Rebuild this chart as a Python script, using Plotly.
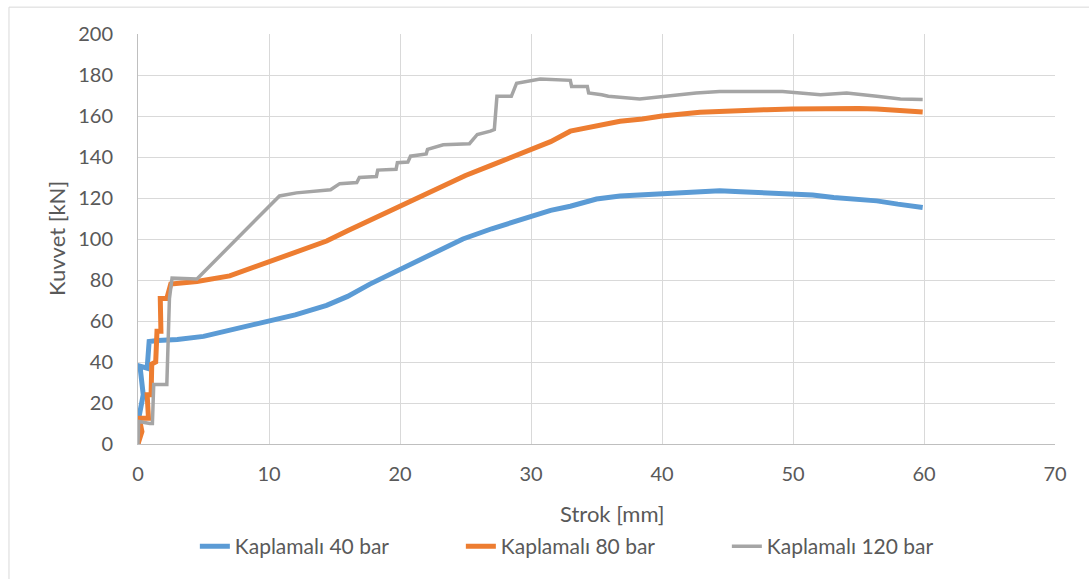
import plotly.graph_objects as go

# Kaplamalı 40 bar
x40 = [0, 0.1, 0.4, 0.15, 0.7, 0.85, 1.5, 3, 5, 7, 8.5, 10, 12, 14.4, 16, 17.7, 18.5, 20, 22, 24.8,
       27, 29.9, 31.5, 33, 35, 36.8, 38.5, 40, 42, 44.4, 46, 48, 49.9, 51.5, 53.1, 55, 56.4, 58, 59.9]
y40 = [0, 14, 24, 38, 37, 50, 50.5, 51, 52.5, 55.5, 57.5, 60.3, 63, 67.6, 72, 78, 80.5, 85.4, 91, 100,
       105, 111, 114, 116, 119.5, 121, 121.5, 122.5, 123, 123.5, 123, 122.5, 122, 121.5, 120.2, 119.5, 118.6, 117, 115.4]

# Kaplamalı 80 bar
x80 = [0, 0.3, 0.1, 0.8, 0.7, 1.0, 1.05, 1.35, 1.45, 1.75, 1.7, 2.2, 2.5, 4.5, 7, 8.5, 10.1, 12, 14.4, 16,
       18, 20, 21.5, 23, 25, 27, 29.9, 31.5, 33, 35, 36.8, 38.5, 40, 42.9, 44.4, 46, 48, 49.9, 51.5, 53.1,
       55, 56.4, 58, 59.9]
y80 = [0, 6, 12.5, 12.5, 24, 24, 39, 40, 55, 55, 71, 71, 78, 79.3, 82, 85.4, 88.8, 93, 99, 104,
       110, 116, 120.4, 125, 131, 136, 143, 147.5, 152.6, 155, 157.4, 158.5, 160, 161.8, 162.3, 162.8, 163.1, 163.4, 163.6, 163.9,
       163.7, 163.4, 162.8, 162]

# Kaplamalı 120 bar
x120 = [0, 0.05, 0.9, 1.1, 1.2, 2.2, 2.4, 2.6, 4.5, 10.8, 12.1, 14.7, 15.4, 16.7, 16.9, 18.2, 18.3, 19.7, 19.8, 20.6,
        20.8, 22, 22.1, 23.3, 25.3, 25.9, 26.9, 27.2, 27.4, 28.5, 28.9, 30.2, 30.7, 33, 33.1, 34.3, 34.4, 35.4, 35.9, 38.3,
        40.1, 42.6, 44.4, 47.5, 49.2, 52.1, 54.1, 56.4, 58.2, 59.9]
y120 = [0, 11, 10, 10, 29, 29, 71, 81, 80.5, 121, 122.5, 124, 127, 127.5, 130, 130.5, 133.6, 134, 137.2, 137.5,
        140.4, 141.5, 143.7, 146, 146.5, 151, 152.6, 153.4, 169.6, 169.6, 176, 177.7, 178, 177.4, 174.4, 174.4, 171.2, 170.4, 169.6, 168.3,
        169.6, 171.2, 172, 172, 172, 170.4, 171.2, 169.6, 168.3, 168]

names = ["Kaplamalı 40 bar", "Kaplamalı 80 bar", "Kaplamalı 120 bar"]
colors = ["#5B9BD5", "#ED7D31", "#A5A5A5"]
widths = [5, 5, 3.5]

FONT = "Lato"
TXT = "#595959"

fig = go.Figure()
for xs, ys, nm, c, w in zip([x40, x80, x120], [y40, y80, y120], names, colors, widths):
    fig.add_trace(go.Scatter(x=xs, y=ys, mode="lines", name=nm,
                             line=dict(color=c, width=w)))

fig.update_layout(
    width=1089, height=579,
    margin=dict(l=138, r=34, t=34, b=133),
    paper_bgcolor="white", plot_bgcolor="white",
    font=dict(family=FONT, size=20, color=TXT),
    showlegend=True,
    legend=dict(orientation="h", x=0.062, xanchor="left", y=-0.2, yanchor="top",
                entrywidth=221, entrywidthmode="pixels",
                font=dict(family=FONT, size=21, color=TXT), itemwidth=30),
    xaxis=dict(range=[0, 70], dtick=10, showgrid=True, gridcolor="#d9d9d9", gridwidth=1,
               zeroline=False, showline=True, linecolor="#bfbfbf", linewidth=1,
               ticks="", ticklabelstandoff=12, tickfont=dict(size=20, color=TXT)),
    yaxis=dict(range=[0, 200], dtick=20, showgrid=True, gridcolor="#d9d9d9", gridwidth=1,
               zeroline=False, showline=True, linecolor="#bfbfbf", linewidth=1,
               ticks="", ticklabelstandoff=20, tickfont=dict(size=20, color=TXT)),
    annotations=[
        dict(text="Strok [mm]", xref="paper", yref="paper", x=0.517, y=-0.17,
             xanchor="center", yanchor="middle", showarrow=False,
             font=dict(family=FONT, size=22, color=TXT)),
        dict(text="Kuvvet [kN]", xref="paper", yref="paper", x=-0.0894, y=0.5,
             xanchor="center", yanchor="middle", textangle=-90, showarrow=False,
             font=dict(family=FONT, size=22, color=TXT)),
    ],
    shapes=[
        dict(type="rect", xref="paper", yref="paper", x0=-0.1407, x1=1.06, y0=-0.4, y1=1.0655,
             line=dict(color="#d9d9d9", width=1), fillcolor="rgba(0,0,0,0)", layer="below"),
    ],
)

fig.write_html("out.html")
